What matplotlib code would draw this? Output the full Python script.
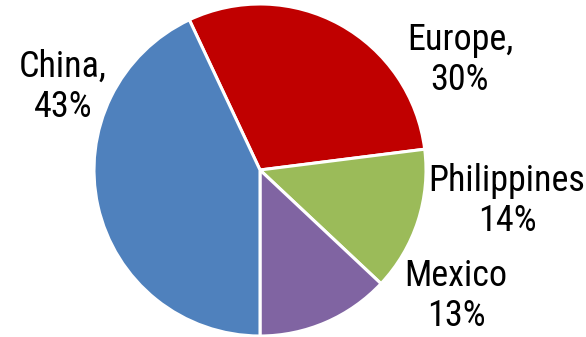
import matplotlib.pyplot as plt

# share of imports by origin
regions = ["Europe", "Philippines", "Mexico", "China"]
shares = [30, 14, 13, 43]
labels = ["Europe,\n30%", "Philippines\n14%", "Mexico\n13%", "China,\n43%"]
colors = ["#C00000", "#9BBB59", "#8064A2", "#4F81BD"]

# label anchor points (pixel space, y measured from the top)
label_xy = [(460, 60), (507, 201), (456, 296), (63, 87)]

W, H = 586, 337
plt.rcParams["font.family"] = ["Roboto Condensed", "Liberation Sans", "DejaVu Sans"]

fig = plt.figure(figsize=(W / 100, H / 100), dpi=100)
ax = fig.add_axes([0, 0, 1, 1])

ax.pie(shares, colors=colors, startangle=115.2, counterclock=False,
       center=(260, H - 170), radius=166, frame=True,
       wedgeprops=dict(edgecolor="white", linewidth=2.2))
ax.set_xlim(0, W)
ax.set_ylim(0, H)
ax.set_aspect("equal")
ax.axis("off")

for text, (x, y) in zip(labels, label_xy):
    ax.text(x, H - y, text, ha="center", va="center", multialignment="center",
            fontsize=26, color="black", linespacing=1.15)

fig.savefig("out.png", dpi=100)
